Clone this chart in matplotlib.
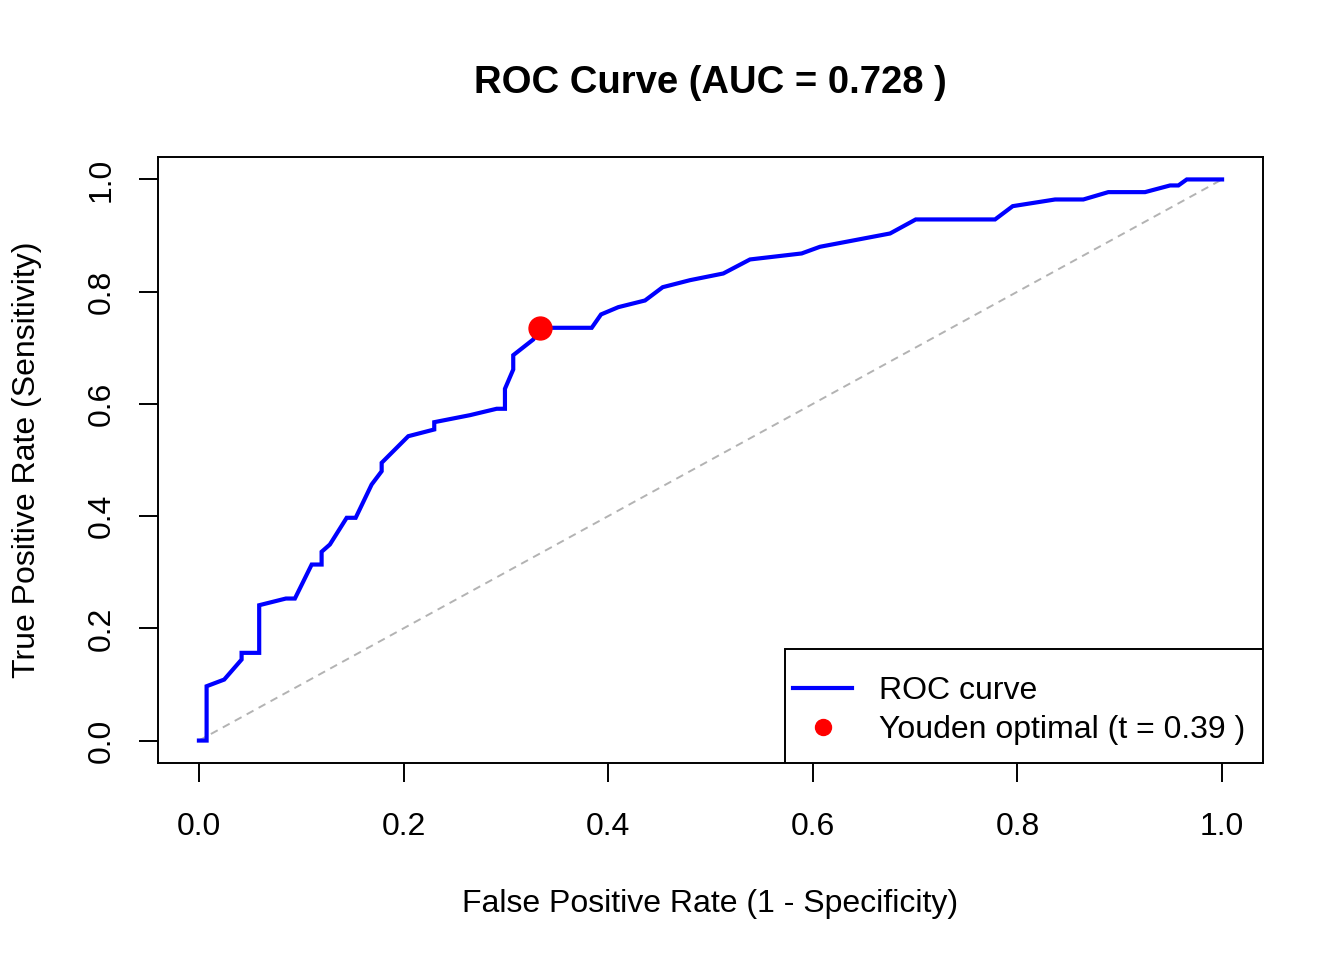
import matplotlib
matplotlib.use("Agg")
import matplotlib.pyplot as plt
from matplotlib.lines import Line2D
from matplotlib.patches import Rectangle

plt.rcParams['font.family'] = ['Liberation Sans', 'DejaVu Sans']

fpr = [0.0, 0.0075, 0.0075, 0.0247, 0.0417, 0.0417, 0.0589, 0.0589, 0.085, 0.0938,
       0.1102, 0.1199, 0.1199, 0.128, 0.1444, 0.1532, 0.1688, 0.1786, 0.1786, 0.2046,
       0.23, 0.23, 0.2649, 0.291, 0.2991, 0.2991, 0.3072, 0.3072, 0.3268, 0.3327,
       0.3839, 0.393, 0.4099, 0.436, 0.4533, 0.48, 0.5125, 0.5386, 0.5891, 0.607,
       0.6755, 0.7006, 0.7781, 0.7954, 0.8368, 0.8644, 0.8888, 0.9247, 0.9492, 0.9573,
       0.9655, 1.0]
tpr = [0.0, 0.0, 0.0968, 0.1087, 0.1444, 0.1563, 0.1563, 0.2412, 0.2531, 0.2531,
       0.3137, 0.3137, 0.3364, 0.3494, 0.397, 0.397, 0.4563, 0.48, 0.495, 0.5424,
       0.5544, 0.5674, 0.5799, 0.5913, 0.5913, 0.6269, 0.6613, 0.6868, 0.7148, 0.7356,
       0.7356, 0.7594, 0.7724, 0.7843, 0.808, 0.8205, 0.8324, 0.8574, 0.8681, 0.88,
       0.9037, 0.9287, 0.9287, 0.9524, 0.9643, 0.9643, 0.9774, 0.9774, 0.9893, 0.9893,
       1.0, 1.0]
youden_x = [0.333]
youden_y = [0.736]
auc = 0.728
thresh = 0.39
ticks = [0.0, 0.2, 0.4, 0.6, 0.8, 1.0]
tick_labels = ["0.0", "0.2", "0.4", "0.6", "0.8", "1.0"]

W, H = 1344, 960
fig = plt.figure(figsize=(W / 100, H / 100), dpi=100)
ax = fig.add_axes([158 / W, 1 - 763 / H, (1263 - 158) / W, (763 - 157) / H])

ax.plot([0, 1], [0, 1], linestyle=(0, (4, 3)), color='#b3b3b3', lw=1.4)
ax.plot(fpr, tpr, color='blue', lw=3.0, solid_joinstyle='miter')
ax.plot(youden_x, youden_y, 'o', color='red', ms=16.5, zorder=5)

ax.set_xlim(-0.04, 1.04)
ax.set_ylim(-0.04, 1.04)
ax.set_xticks(ticks)
ax.set_xticklabels(tick_labels)
ax.set_yticks(ticks)
ax.set_yticklabels(tick_labels, rotation=90, va='center')
ax.tick_params(axis='both', length=14, width=1.4, labelsize=23, color='black')
ax.tick_params(axis='x', pad=21)
ax.tick_params(axis='y', pad=16)
for s in ax.spines.values():
    s.set_linewidth(1.4)

fig.text(710.5 / W, 1 - 83 / H, "ROC Curve (AUC = %s )" % auc, ha='center', va='center',
         fontsize=27.5, fontweight='bold')
fig.text(710.5 / W, 1 - 904 / H, "False Positive Rate (1 - Specificity)", ha='center',
         va='center', fontsize=23)
fig.text(27 / W, 1 - 460 / H, "True Positive Rate (Sensitivity)", ha='center',
         va='center', rotation=90, fontsize=23)

# legend frame (R-style box, flush with the plot's lower right corner)
ax.add_patch(Rectangle(((785 - 158) / 1105, 0), 1 - (785 - 158) / 1105, (763 - 649) / 606,
                       transform=ax.transAxes, facecolor='white', edgecolor='black',
                       lw=1.4, zorder=6))
handles = [Line2D([], [], color='blue', lw=3.0),
           Line2D([], [], marker='o', color='red', linestyle='none', ms=11.5)]
leg = ax.legend(handles, ["ROC curve", "Youden optimal (t = %s )" % thresh],
                loc='center left', bbox_to_anchor=((793 - 158) / 1105, (763 - 710.5) / 606),
                frameon=False, fontsize=23, handlelength=1.85, handletextpad=0.85,
                borderpad=0, borderaxespad=0, labelspacing=0.28)
leg.set_zorder(7)

fig.savefig("out.png", dpi=100)
